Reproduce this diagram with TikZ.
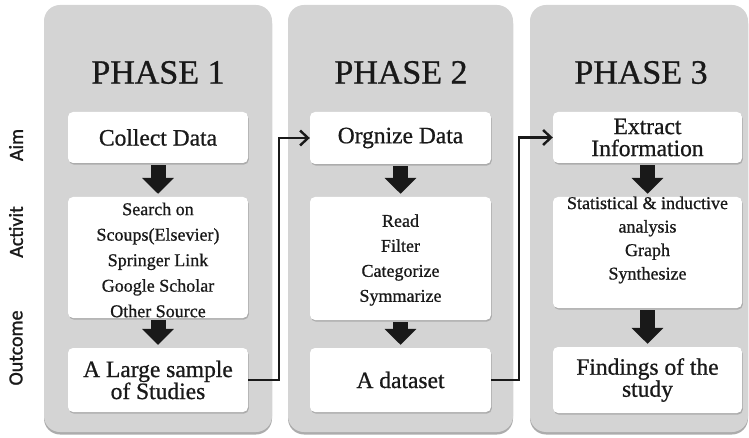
\documentclass[tikz,border=0pt]{standalone}
\usepackage{fontspec}
\setmainfont{Liberation Serif}[RawFeature={embolden=0.8}]
\newfontfamily\sidefont{Carlito}[RawFeature={embolden=1.2}]
\usetikzlibrary{arrows.meta,shadows}
\definecolor{panelgray}{RGB}{212,212,212}
\definecolor{panelshadow}{RGB}{172,172,172}
\definecolor{ink}{RGB}{25,25,25}
\begin{document}
\begin{tikzpicture}[x=1pt,y=-1pt,
  panel/.style={rounded corners=16pt, fill=panelgray, draw=none, minimum width=#1,
    minimum height=427pt, inner sep=0pt,
    drop shadow={shadow xshift=0pt, shadow yshift=-2.5pt, fill=panelshadow, opacity=1}},
  box/.style 2 args={fill=white, draw=none, rounded corners=5pt, minimum width=#1,
    minimum height=#2, inner sep=0pt, align=center, text=ink,
    drop shadow={shadow xshift=0.8pt, shadow yshift=-1.6pt, fill=black!45, opacity=0.55}},
  title/.style={font=\fontsize{34}{36}\selectfont, text=ink, inner sep=0pt},
  bigtext/.style={font=\fontsize{23.5}{22}\selectfont},
  acttext/.style={font=\fontsize{18}{#1}\selectfont, align=center, text=ink, inner sep=0pt},
  side/.style={font=\sidefont\fontsize{20}{22}\selectfont, text=ink, rotate=90, inner sep=0pt},
  downarrow/.style={line width=15pt, ink, -{Triangle[length=16pt,width=31pt]},
    shorten <=2pt, shorten >=3pt},
  conn/.style={line width=2.4pt, ink, -{Straight Barb[length=8pt,width=15pt]}}
]
\useasboundingbox (0,0) rectangle (749,438);

% panels
\node[panel=228pt] (p1) at (158,218.5) {};
\node[panel=225pt] (p2) at (400.5,218.5) {};
\node[panel=218pt] (p3) at (639,218.5) {};

% titles
\node[title] (t1) at (158,72.5) {PHASE 1};
\node[title] (t2) at (401,72.5) {PHASE 2};
\node[title] (t3) at (641,72.5) {PHASE 3};

% side labels
\node[side] (l1) at (16,145) {Aim};
\node[side] (l2) at (16,232) {Activit};
\node[side] (l3) at (16,348) {Outcome};

% phase 1
\node[box={180pt}{51pt}, bigtext] (a1) at (158,137.5) {Collect Data};
\node[box={180pt}{121pt}] (b1) at (158,257.5) {};
\node[acttext=25.5] (bt1) at (158,260) {Search on\\Scoups(Elsevier)\\Springer Link\\Google Scholar\\Other Source};
\node[box={180pt}{64pt}, bigtext] (o1) at (158,380) {A Large sample\\of Studies};

% phase 2
\node[box={181pt}{52pt}, bigtext] (a2) at (400.5,138) {Orgnize Data};
\node[box={181pt}{123pt}] (b2) at (400.5,258.5) {};
\node[acttext=25] (bt2) at (400.5,260) {Read\\Filter\\Categorize\\Symmarize};
\node[box={181pt}{64pt}, bigtext] (o2) at (400.5,380) {A dataset};

% phase 3
\node[box={189pt}{51pt}, bigtext] (a3) at (647.5,137.5) {Extract\\Information};
\node[box={189pt}{111pt}] (b3) at (647.5,252.5) {};
\node[acttext=23.5] (bt3) at (647.5,240) {Statistical \& inductive\\analysis\\Graph\\Synthesize};
\node[box={189pt}{66pt}, bigtext] (o3) at (647.5,380) {Findings of the\\study};

% thick down arrows
\draw[downarrow] (a1.south) -- (b1.north);
\draw[downarrow] (b1.south) -- (o1.north);
\draw[downarrow] (a2.south) -- (b2.north);
\draw[downarrow] (b2.south) -- (o2.north);
\draw[downarrow] (a3.south) -- (b3.north);
\draw[downarrow] (b3.south) -- (o3.north);

% connectors between phases
\draw[conn] (o1.east) -- ++(31,0) |- (a2.west);
\draw[conn] (o2.east) -- ++(28,0) |- (a3.west);
\end{tikzpicture}
\end{document}
